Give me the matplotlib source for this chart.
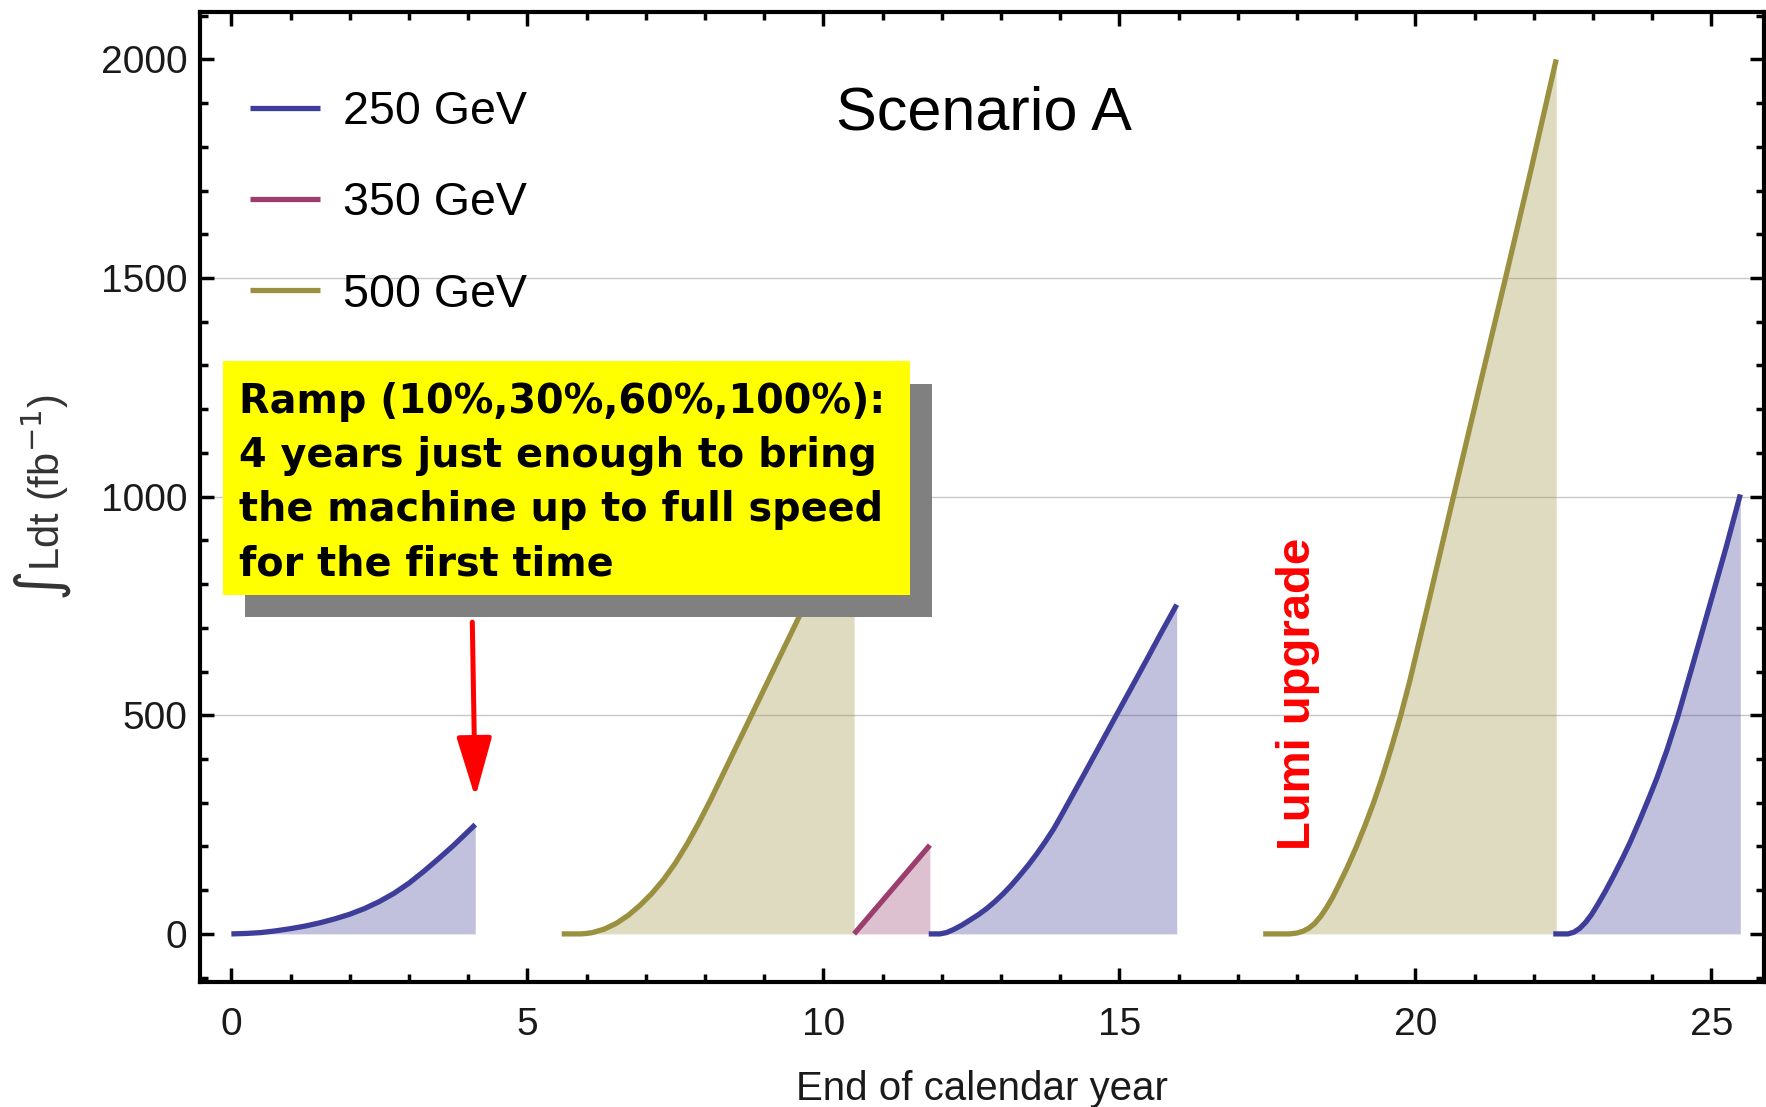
import matplotlib
matplotlib.use("Agg")
import matplotlib.pyplot as plt
from matplotlib.patches import Rectangle
from matplotlib.ticker import MultipleLocator

plt.rcParams['font.family'] = ['Liberation Sans', 'DejaVu Sans']
plt.rcParams['mathtext.fontset'] = 'dejavusans'

# ---- data (year, cumulative fb^-1) ----
run1_x = [0, 0.25, 0.5, 0.75, 1.0, 1.25, 1.5, 1.75, 2.0, 2.25, 2.5, 2.75, 3.0, 3.25, 3.5, 3.75, 4.12]
run1_y = [0, 1, 3, 7, 12, 18, 25.5, 34.5, 45, 58, 74, 93, 116, 143, 172, 202, 250]

run2_x = [5.58, 5.9, 6.0, 6.1, 6.3, 6.5, 6.7, 6.9, 7.1, 7.3, 7.5, 7.7, 7.9, 8.1, 8.3, 8.5,
          9.0, 9.5, 10.0, 10.52]
run2_y = [0, 0, 1, 3, 11, 24, 42, 65, 92, 124, 162, 206, 255, 308, 364, 420,
          560, 700, 840, 985]

run3_x = [10.52, 11.8]
run3_y = [0, 203]

run4_x = [11.78, 11.97, 12.08, 12.2, 12.34, 12.48, 12.62, 12.76, 12.9, 13.04, 13.18, 13.32,
          13.46, 13.6, 13.75, 13.89, 14.0, 14.2, 14.4, 14.65, 14.9, 15.2, 15.45, 15.7, 15.97]
run4_y = [0, 0, 3, 10, 20, 32, 44, 58, 74, 92, 112, 134,
          157, 182, 211, 240, 266, 315, 364, 426, 488, 562, 624, 687, 753]

run5_x = [17.43, 17.88, 18.0, 18.1, 18.2, 18.3, 18.4, 18.5, 18.6, 18.7, 18.85, 19.0, 19.15,
          19.3, 19.45, 19.6, 19.75, 19.9, 20.2, 20.6, 21.1, 21.55, 21.95, 22.38]
run5_y = [0, 0, 2, 6, 13, 24, 40, 60, 83, 110, 152, 198, 248,
          302, 362, 428, 498, 575, 745, 975, 1260, 1515, 1745, 2000]

run6_x = [22.33, 22.58, 22.68, 22.78, 22.88, 22.98, 23.08, 23.2, 23.35, 23.5, 23.63, 23.8,
          23.95, 24.08, 24.25, 24.44, 24.7, 24.98, 25.25, 25.49]
run6_y = [0, 0, 4, 13, 27, 45, 67, 95, 133, 173, 210, 263,
          312, 356, 420, 500, 622, 755, 884, 1005]

energies = ['250 GeV', '350 GeV', '500 GeV']
colors = {'250 GeV': '#3e3e9a', '350 GeV': '#9b3e6e', '500 GeV': '#9a9040'}
runs = [(run1_x, run1_y, '250 GeV'), (run2_x, run2_y, '500 GeV'), (run3_x, run3_y, '350 GeV'),
        (run4_x, run4_y, '250 GeV'), (run5_x, run5_y, '500 GeV'), (run6_x, run6_y, '250 GeV')]

grid_levels = [500, 1000, 1500]
box_lines = ['Ramp (10%,30%,60%,100%):',
             '4 years just enough to bring',
             'the machine up to full speed',
             'for the first time']

# ---- figure ----
fig = plt.figure(figsize=(17.66, 11.07), dpi=100)
ax = fig.add_axes([200 / 1766, 1 - 982 / 1107, 1564 / 1766, 970.3 / 1107])

for g in grid_levels:
    ax.axhline(g, color='#c8c8c8', lw=1.0, zorder=1)

handles = {}
for xs, ys, e in runs:
    ax.fill_between(xs, 0, ys, color=colors[e], alpha=0.32, lw=0, zorder=2)
    ln, = ax.plot(xs, ys, color=colors[e], lw=3.8, solid_capstyle='butt',
                  solid_joinstyle='round', zorder=3)
    handles.setdefault(e, ln)

ax.set_xlim(-0.53, 25.89)
ax.set_ylim(-110, 2109)
ax.xaxis.set_major_locator(MultipleLocator(5))
ax.xaxis.set_minor_locator(MultipleLocator(1))
ax.yaxis.set_major_locator(MultipleLocator(500))
ax.yaxis.set_minor_locator(MultipleLocator(100))
ax.tick_params(which='both', direction='in', top=True, right=True, width=2.5, colors='black')
ax.tick_params(which='major', length=10)
ax.tick_params(which='minor', length=6)
ax.tick_params(axis='x', labelsize=28, pad=18, labelcolor='#1a1a1a')
ax.tick_params(axis='y', labelsize=28, pad=9, labelcolor='#1a1a1a')
for s in ax.spines.values():
    s.set_linewidth(3.0)

ax.set_xlabel('End of calendar year', fontsize=29, color='#1a1a1a', va='baseline')
ax.xaxis.set_label_coords(0.5, -0.1216)
ax.set_ylabel(r'$\int$Ldt (fb$^{-1}$)', fontsize=30, color='#333333', va='baseline')
ax.yaxis.set_label_coords(-0.0902, 0.4993)

ax.legend([handles[e] for e in energies], energies, loc='upper left',
          bbox_to_anchor=(0.032, 0.9195), frameon=False, fontsize=33.5,
          handlelength=1.5, handletextpad=0.5, labelspacing=1.02,
          borderpad=0, borderaxespad=0)

ax.text(0.4065, 0.879, 'Scenario A', transform=ax.transAxes, fontsize=44,
        ha='left', va='baseline', color='black')

# annotation box with drop shadow
ax.add_patch(Rectangle((0.0288, 0.376), 0.4392, 0.240, transform=ax.transAxes,
                       facecolor='#808080', edgecolor='none', zorder=5))
ax.add_patch(Rectangle((0.0147, 0.3988), 0.4393, 0.2412, transform=ax.transAxes,
                       facecolor='#ffff00', edgecolor='none', zorder=6))
for i, line in enumerate(box_lines):
    ax.text(0.0249, 0.5864 - i * 0.05565, line, transform=ax.transAxes,
            fontsize=28.6, fontweight='bold', family='DejaVu Sans',
            ha='left', va='baseline', color='black', zorder=7)

ax.annotate('', xy=(4.12, 312), xytext=(4.07, 713),
            arrowprops=dict(arrowstyle='-|>,head_length=1.84,head_width=0.54',
                            mutation_scale=20, color='red', lw=3.6,
                            shrinkA=0, shrinkB=0),
            zorder=7)

ax.text(18.22, 191, 'Lumi upgrade', rotation=90, rotation_mode='anchor',
        ha='left', va='baseline', fontsize=34, fontweight='bold', color='red', zorder=4)

fig.savefig('out.png', dpi=100)
